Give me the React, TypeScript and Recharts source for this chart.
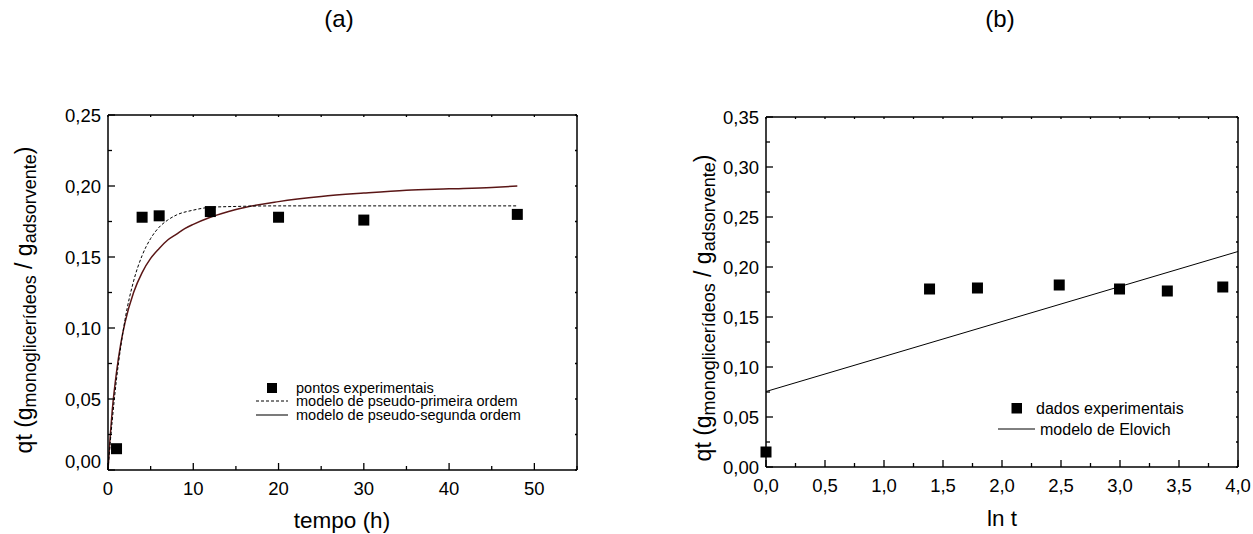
import { ComposedChart, Line, Scatter, XAxis, YAxis, Legend, Label } from 'recharts';

const FONT = '"Liberation Sans", Arial, Helvetica, sans-serif';

// experimental points (same in both panels)
const expTime = [1, 4, 6, 12, 20, 30, 48];
const expLnT = [0.0, 1.386, 1.792, 2.485, 2.996, 3.401, 3.871];
const expQt = [0.015, 0.178, 0.179, 0.182, 0.178, 0.176, 0.18];

// pseudo-first order model (dashed)
const pfoTime = [0, 0.25, 0.5, 1, 1.5, 2, 3, 4, 5, 6, 7, 8, 10, 12, 15, 20, 30, 40, 48];
const pfoQt = [0, 0.0185, 0.035, 0.064, 0.087, 0.106, 0.133, 0.151, 0.163, 0.171, 0.176, 0.1795, 0.183, 0.185, 0.1856, 0.186, 0.186, 0.186, 0.186];

// pseudo-second order model
const psoTime = [0, 0.25, 0.5, 1, 1.5, 2, 3, 4, 5, 6, 7, 8, 9, 10, 12, 15, 20, 25, 30, 35, 40, 45, 48];
const psoQt = [0, 0.023, 0.042, 0.069, 0.089, 0.104, 0.125, 0.139, 0.149, 0.156, 0.162, 0.166, 0.17, 0.173, 0.178, 0.1835, 0.189, 0.1926, 0.195, 0.197, 0.198, 0.199, 0.2];

// Elovich model
const elovichLnT = [0, 2, 4];
const elovichQt = [0.0755, 0.1455, 0.2155];

// ticks
const timeTicks = [0, 5, 10, 15, 20, 25, 30, 35, 40, 45, 50, 55];
const timeMajors = [0, 10, 20, 30, 40, 50];
const qtTicksA = [0, 0.025, 0.05, 0.075, 0.1, 0.125, 0.15, 0.175, 0.2, 0.225, 0.25];
const qtMajorsA = [0, 0.05, 0.1, 0.15, 0.2, 0.25];
const lnTicks = [0, 0.25, 0.5, 0.75, 1, 1.25, 1.5, 1.75, 2, 2.25, 2.5, 2.75, 3, 3.25, 3.5, 3.75, 4];
const lnMajors = [0, 0.5, 1, 1.5, 2, 2.5, 3, 3.5, 4];
const qtTicksB = [0, 0.025, 0.05, 0.075, 0.1, 0.125, 0.15, 0.175, 0.2, 0.225, 0.25, 0.275, 0.3, 0.325, 0.35];
const qtMajorsB = [0, 0.05, 0.1, 0.15, 0.2, 0.25, 0.3, 0.35];

const expA = expTime.map((t, i) => ({ x: t, y: expQt[i] }));
const expB = expLnT.map((t, i) => ({ x: t, y: expQt[i] }));
const pfoData = pfoTime.map((t, i) => ({ x: t, y: pfoQt[i] }));
const psoData = psoTime.map((t, i) => ({ x: t, y: psoQt[i] }));
const elovichData = elovichLnT.map((t, i) => ({ x: t, y: elovichQt[i] }));

const comma = (s: string) => s.replace('.', ',');

function AxisTick(props: any) {
  const { x, y, payload, side, majors, fmt, zeroShift = 0 } = props;
  const v = payload.value;
  const major = majors ? majors.some((m: number) => Math.abs(m - v) < 1e-9) : false;
  const mirror = side === 'top' || side === 'right';
  const len = mirror ? 2 : major ? 7 : 4;
  let line;
  if (side === 'bottom') line = <line x1={x} y1={y} x2={x} y2={y - len} />;
  else if (side === 'top') line = <line x1={x} y1={y} x2={x} y2={y + len} />;
  else if (side === 'left') line = <line x1={x} y1={y} x2={x + len} y2={y} />;
  else line = <line x1={x} y1={y} x2={x - len} y2={y} />;
  return (
    <g stroke="#000" strokeWidth={1.3}>
      {line}
      {major && side === 'bottom' && (
        <text x={x} y={y + 25} textAnchor="middle" fontFamily={FONT} fontSize={18.5} fill="#000" stroke="none">
          {fmt(v)}
        </text>
      )}
      {major && side === 'left' && (
        <text x={x - 7} y={y + 6.5 + (v === 0 ? zeroShift : 0)} textAnchor="end" fontFamily={FONT} fontSize={18.5} fill="#000" stroke="none">
          {fmt(v)}
        </text>
      )}
    </g>
  );
}

function YTitle({ cx, cy }: { cx: number; cy: number }) {
  return (
    <text transform={`rotate(-90 ${cx} ${cy})`} x={cx} y={cy} textAnchor="middle" fontFamily={FONT} fontSize={23} fill="#000">
      <tspan>qt (g</tspan>
      <tspan fontSize={18} dy={4}>monoglicerídeos</tspan>
      <tspan dy={-4}> / g</tspan>
      <tspan fontSize={18} dy={4}>adsorvente</tspan>
      <tspan dy={-4}>)</tspan>
    </text>
  );
}

function SquareDot(props: any) {
  const { cx, cy } = props;
  if (cx == null || cy == null) return null;
  return <rect x={cx - 5.5} y={cy - 5.5} width={11} height={11} fill="#000" />;
}

function LegendA() {
  return (
    <svg width={300} height={48} style={{ display: 'block', overflow: 'visible' }}>
      <rect x={17} y={5} width={10} height={10} fill="#000" />
      <text x={46} y={15} fontFamily={FONT} fontSize={14.5} fill="#000">pontos experimentais</text>
      <line x1={6} y1={23} x2={38} y2={23} stroke="#000" strokeWidth={1} strokeDasharray="3 2" />
      <text x={46} y={28} fontFamily={FONT} fontSize={14.5} fill="#000">modelo de pseudo-primeira ordem</text>
      <line x1={6} y1={37} x2={38} y2={37} stroke="#333" strokeWidth={1.3} />
      <text x={46} y={42} fontFamily={FONT} fontSize={14.5} fill="#000">modelo de pseudo-segunda ordem</text>
    </svg>
  );
}

function LegendB() {
  return (
    <svg width={220} height={46} style={{ display: 'block', overflow: 'visible' }}>
      <rect x={21.5} y={8} width={10.5} height={10.5} fill="#000" />
      <text x={46} y={19} fontFamily={FONT} fontSize={16} fill="#000">dados experimentais</text>
      <line x1={8} y1={34} x2={45} y2={34} stroke="#000" strokeWidth={1} />
      <text x={50} y={39.5} fontFamily={FONT} fontSize={16} fill="#000">modelo de Elovich</text>
    </svg>
  );
}

const axisLine = { stroke: '#000', strokeWidth: 1.5 };

function PanelA() {
  return (
    <ComposedChart width={620} height={534} margin={{ top: 114, right: 42, bottom: 34, left: 48 }}>
      <XAxis
        xAxisId="b"
        type="number"
        dataKey="x"
        domain={[0, 55]}
        ticks={timeTicks}
        interval={0}
        height={30}
        tickSize={0}
        tickMargin={0}
        axisLine={axisLine}
        tickLine={false}
        tick={(p: any) => <AxisTick {...p} side="bottom" majors={timeMajors} fmt={(v: number) => String(v)} />}
      >
        <Label content={() => (
          <text x={342} y={528} textAnchor="middle" fontFamily={FONT} fontSize={22.5} fill="#000">tempo (h)</text>
        )} />
      </XAxis>
      {/* mirror axes need a non-zero size or they are not drawn */}
      <XAxis
        xAxisId="t"
        orientation="top"
        type="number"
        dataKey="x"
        domain={[0, 55]}
        ticks={timeTicks}
        interval={0}
        height={1}
        tickSize={0}
        tickMargin={0}
        axisLine={axisLine}
        tickLine={false}
        tick={(p: any) => <AxisTick {...p} side="top" majors={timeMajors} fmt={String} />}
      >
        <Label content={() => (
          <text x={339} y={27} textAnchor="middle" fontFamily={FONT} fontSize={24} fill="#000">(a)</text>
        )} />
      </XAxis>
      <YAxis
        yAxisId="l"
        type="number"
        domain={[0, 0.25]}
        ticks={qtTicksA}
        interval={0}
        width={60}
        tickSize={0}
        tickMargin={0}
        axisLine={axisLine}
        tickLine={false}
        tick={(p: any) => <AxisTick {...p} side="left" majors={qtMajorsA} zeroShift={-9} fmt={(v: number) => comma(v.toFixed(2))} />}
      >
        <Label content={() => <YTitle cx={32} cy={300} />} />
      </YAxis>
      <YAxis
        yAxisId="r"
        orientation="right"
        type="number"
        domain={[0, 0.25]}
        ticks={qtTicksA}
        interval={0}
        width={1}
        tickSize={0}
        tickMargin={0}
        axisLine={axisLine}
        tickLine={false}
        tick={(p: any) => <AxisTick {...p} side="right" majors={qtMajorsA} fmt={String} />}
      />
      <Line
        xAxisId="b"
        yAxisId="l"
        data={psoData}
        dataKey="y"
        name="modelo de pseudo-segunda ordem"
        type="monotone"
        stroke="#5a1616"
        strokeWidth={1.5}
        dot={false}
        isAnimationActive={false}
      />
      <Line
        xAxisId="b"
        yAxisId="l"
        data={pfoData}
        dataKey="y"
        name="modelo de pseudo-primeira ordem"
        type="monotone"
        stroke="#000"
        strokeWidth={1}
        strokeDasharray="3 2"
        dot={false}
        isAnimationActive={false}
      />
      <Scatter
        xAxisId="t"
        yAxisId="r"
        data={expA}
        dataKey="y"
        name="pontos experimentais"
        shape={SquareDot}
        isAnimationActive={false}
      />
      <Legend
        layout="vertical"
        align="center"
        verticalAlign="middle"
        content={() => <LegendA />}
        wrapperStyle={{ position: 'absolute', left: 250, top: 378, width: 300, height: 48 }}
      />
    </ComposedChart>
  );
}

function PanelB() {
  return (
    <ComposedChart width={613} height={534} margin={{ top: 116, right: 14, bottom: 37, left: 66 }}>
      <XAxis
        xAxisId="b"
        type="number"
        dataKey="x"
        domain={[0, 4]}
        ticks={lnTicks}
        interval={0}
        height={30}
        tickSize={0}
        tickMargin={0}
        axisLine={axisLine}
        tickLine={false}
        tick={(p: any) => <AxisTick {...p} side="bottom" majors={lnMajors} fmt={(v: number) => comma(v.toFixed(1))} />}
      >
        <Label content={() => (
          <text x={362} y={526} textAnchor="middle" fontFamily={FONT} fontSize={22.5} fill="#000">ln t</text>
        )} />
      </XAxis>
      <XAxis
        xAxisId="t"
        orientation="top"
        type="number"
        dataKey="x"
        domain={[0, 4]}
        ticks={lnTicks}
        interval={0}
        height={1}
        tickSize={0}
        tickMargin={0}
        axisLine={axisLine}
        tickLine={false}
        tick={(p: any) => <AxisTick {...p} side="top" majors={lnMajors} fmt={String} />}
      >
        <Label content={() => (
          <text x={360} y={27} textAnchor="middle" fontFamily={FONT} fontSize={24} fill="#000">(b)</text>
        )} />
      </XAxis>
      <YAxis
        yAxisId="l"
        type="number"
        domain={[0, 0.35]}
        ticks={qtTicksB}
        interval={0}
        width={60}
        tickSize={0}
        tickMargin={0}
        axisLine={axisLine}
        tickLine={false}
        tick={(p: any) => <AxisTick {...p} side="left" majors={qtMajorsB} fmt={(v: number) => comma(v.toFixed(2))} />}
      >
        <Label content={() => <YTitle cx={71} cy={308} />} />
      </YAxis>
      <YAxis
        yAxisId="r"
        orientation="right"
        type="number"
        domain={[0, 0.35]}
        ticks={qtTicksB}
        interval={0}
        width={1}
        tickSize={0}
        tickMargin={0}
        axisLine={axisLine}
        tickLine={false}
        tick={(p: any) => <AxisTick {...p} side="right" majors={qtMajorsB} fmt={String} />}
      />
      <Line
        xAxisId="b"
        yAxisId="l"
        data={elovichData}
        dataKey="y"
        name="modelo de Elovich"
        type="linear"
        stroke="#000"
        strokeWidth={1}
        dot={false}
        isAnimationActive={false}
      />
      <Scatter
        xAxisId="t"
        yAxisId="r"
        data={expB}
        dataKey="y"
        name="dados experimentais"
        shape={SquareDot}
        isAnimationActive={false}
      />
      <Legend
        layout="vertical"
        align="center"
        verticalAlign="middle"
        content={() => <LegendB />}
        wrapperStyle={{ position: 'absolute', left: 350, top: 395, width: 220, height: 46 }}
      />
    </ComposedChart>
  );
}

export default function App() {
  return (
    <div style={{ position: 'absolute', left: 0, top: 0, width: 1253, height: 534, background: '#fff' }}>
      <div style={{ position: 'absolute', left: 0, top: 0 }}>
        <PanelA />
      </div>
      <div style={{ position: 'absolute', left: 640, top: 0 }}>
        <PanelB />
      </div>
    </div>
  );
}
